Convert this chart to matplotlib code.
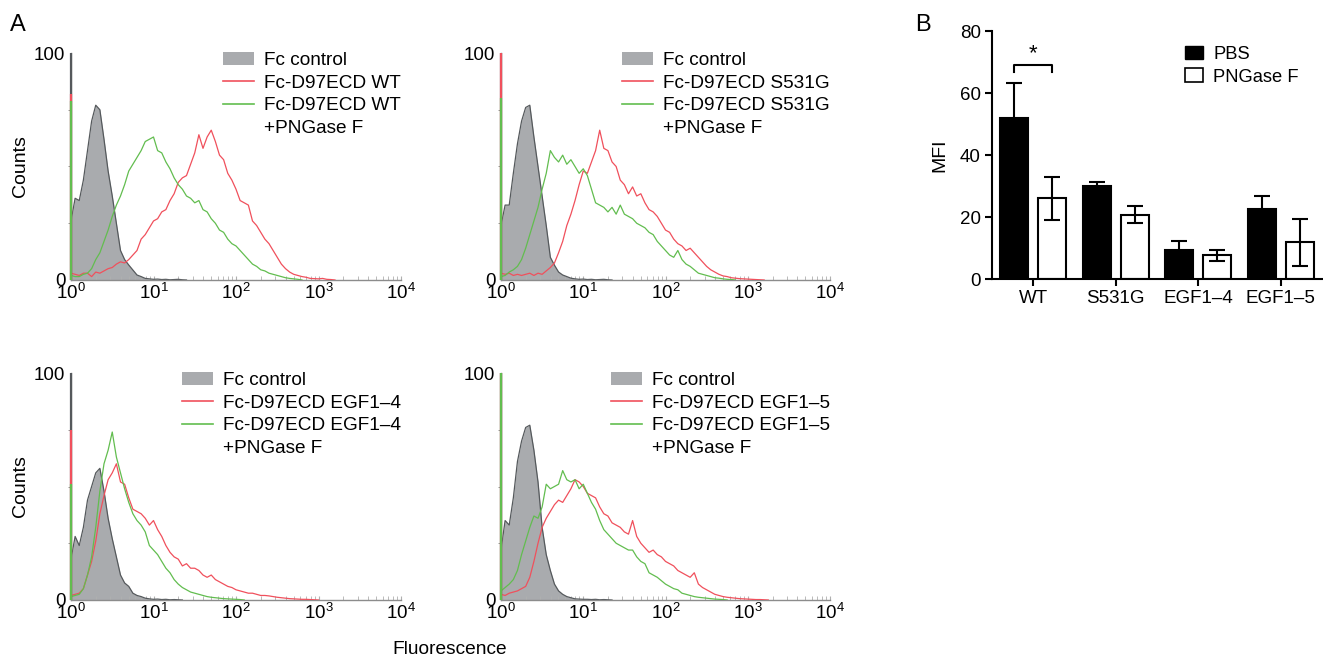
import numpy as np
import matplotlib
matplotlib.use('Agg')
import matplotlib.pyplot as plt
from matplotlib.patches import Patch
from matplotlib.lines import Line2D

plt.rcParams['font.family'] = ['Liberation Sans', 'DejaVu Sans']
plt.rcParams['mathtext.fontset'] = 'custom'
plt.rcParams['mathtext.rm'] = 'Liberation Sans'
plt.rcParams['mathtext.it'] = 'Liberation Sans'
plt.rcParams['mathtext.default'] = 'regular'

# histogram channels: log10(fluorescence) in steps of 0.05, starting at 10^0
STEP = 0.05

# --- WT panel
wt_ctrl = [26, 36, 35, 44, 57, 70, 77, 75, 62, 48, 37, 25, 13, 9, 6.6, 4.4, 2.2, 1.5, 0.7, 0.5,
           0.3, 0.4, 0.2, 0.3, 0.1, 0.2, 0.3, 0.1, 0]
wt_pbs = [3, 2.5, 2, 3, 3, 1.5, 3.5, 3, 4, 5, 5.5, 7, 8, 7.5, 9, 11, 13, 18, 20, 23,
          26, 27, 30, 31, 35, 38, 43, 45, 46, 51, 56, 64, 58, 63, 66, 61, 55, 53, 47, 44,
          40, 35, 34, 33, 26, 24, 21, 18, 16, 13, 10, 7, 5, 3.5, 2.5, 2, 1.5, 1.2, 0.7, 0.6,
          0.5, 0.7, 0.3, 0.2, 0]
wt_png = [2, 1.5, 1.5, 2.5, 3, 5, 9, 12, 17, 22, 28, 33, 37, 42, 48, 51, 54, 57, 61, 62,
          63, 57, 56, 52, 49, 45, 42, 40, 37, 36, 34, 35, 31, 30, 27, 25, 22, 21, 18, 16,
          15, 13, 11, 9, 7, 6, 4.5, 4, 3, 2.5, 2, 1.5, 1, 0.7, 0.5, 0.3, 0]

# --- S531G panel
s5_ctrl = [24, 33, 33, 47, 60, 70, 76, 77, 63, 50, 37, 24, 10, 6.5, 3.5, 2.2, 1.5, 0.8, 0.5, 0.3,
           0.4, 0.2, 0.3, 0.1, 0.2, 0.3, 0.1, 0]
s5_pbs = [3, 2.5, 3, 2, 2.5, 2, 2.5, 3, 2, 3, 2.5, 4, 5.5, 7.5, 12, 17, 24, 29, 35, 42,
          48, 47, 52, 57, 66, 58, 57, 52, 50, 44, 42, 38, 41, 37, 38, 34, 31, 30, 28, 25,
          22, 21, 18, 16, 15, 13, 14, 12, 10, 8, 6, 4.5, 3.5, 2.5, 1.8, 1.5, 1, 0.8, 0.6, 0.5,
          0.4, 0.3, 0.2, 0.1, 0]
s5_png = [1.5, 2, 3.5, 4.5, 6, 9, 14, 20, 26, 32, 40, 47, 57, 54, 52, 55, 51, 53, 50, 47,
          49, 46, 40, 34, 33, 32, 30, 32, 29, 33, 29, 28, 27, 25, 24, 23, 21, 20, 17, 15,
          13, 11, 10, 13, 9, 7, 6, 4.5, 3, 2.5, 2, 1.5, 1, 0.8, 0.5, 0.3, 0.2, 0]

# --- EGF1-4 panel
e4_ctrl = [18, 28, 24, 32, 44, 50, 56, 58, 48, 36, 27, 19, 11, 7.5, 6, 3, 2, 1.5, 0.8, 0.5,
           0.3, 0.4, 0.2, 0.3, 0.1, 0.2, 0.1, 0]
e4_pbs = [2, 2.5, 3, 5, 11, 17, 26, 38, 46, 53, 56, 60, 52, 51, 45, 40, 39, 38, 36, 33,
          35, 31, 28, 24, 21, 19, 18, 15, 16, 14, 14, 13, 11, 10, 11, 9, 8, 7, 6, 5.5,
          4.5, 4, 3.5, 3, 3, 2.5, 2, 2, 1.8, 1.5, 1.2, 1, 0.8, 0.6, 0.5, 0.4, 0.3, 0.3, 0.2, 0.1,
          0]
e4_png = [1.5, 2, 2.5, 5, 11, 19, 32, 48, 60, 66, 74, 63, 56, 49, 43, 38, 35, 33, 30, 24,
          22, 20, 17, 14, 12, 9, 7, 5.5, 4.5, 3.5, 3, 2.5, 2, 1.5, 1.2, 1, 0.8, 0.6, 0.5, 0.4,
          0.3, 0.2, 0]

# --- EGF1-5 panel
e5_ctrl = [22, 35, 33, 45, 61, 70, 76, 77, 66, 52, 32, 20, 13, 7, 4, 2.5, 1.5, 1, 0.5, 0.4,
           0.3, 0.3, 0.2, 0.3, 0.1, 0.2, 0.1, 0]
e5_pbs = [2.5, 2, 3, 3.5, 4, 5, 6, 10, 17, 25, 32, 36, 39, 42, 44, 43, 46, 49, 53, 52,
          50, 47, 46, 45, 41, 38, 37, 34, 33, 32, 30, 29, 35, 28, 25, 23, 21, 22, 20, 19,
          17, 16, 15, 13, 12, 11, 10, 12, 7, 5.5, 4.5, 3.5, 2.5, 2, 1.5, 1.2, 1, 0.8, 0.6, 0.5,
          0.4, 0.3, 0.2, 0.2, 0.1, 0]
e5_png = [4, 5.5, 7, 9, 13, 20, 26, 32, 37, 36, 41, 51, 49, 50, 51, 57, 53, 52, 53, 49,
          51, 47, 43, 40, 35, 31, 29, 27, 25, 24, 23, 22, 22, 19, 17, 16, 12, 11, 10, 8.5,
          7, 6, 5, 4.5, 3, 2.5, 2, 1.5, 1.2, 1, 0.8, 0.6, 0.4, 0.3, 0.2, 0]

# first-channel pile-up (ctrl, red, green)
wt_spike = [100, 82, 79]
s5_spike = [100, 100, 80]
e4_spike = [100, 75, 51]
e5_spike = [100, 100, 100]

panel_names = ['WT', 'S531G', 'EGF1\u20134', 'EGF1\u20135']

# --- panel B: MFI
groups = ['WT', 'S531G', 'EGF1\u20134', 'EGF1\u20135']
mfi_pbs = [52, 30, 9.2, 22.6]
mfi_pbs_err = [11.3, 1.4, 3.2, 4.2]
mfi_png = [26, 20.8, 7.6, 11.8]
mfi_png_err = [6.9, 2.8, 1.9, 7.7]

FILL = '#a9abae'
EDGE = '#55595c'
RED = '#f0505c'
GREEN = '#62bd4f'
AXC = '#8c8c8c'


def chan(vals):
    return 10 ** (STEP * np.arange(len(vals)))


def draw_hist(ax, ctrl, pbs, png, spike, name, show_ylabel):
    ax.fill_between(chan(ctrl), ctrl, color=FILL, lw=0, zorder=1)
    ax.plot(chan(ctrl), ctrl, color=EDGE, lw=0.9, zorder=2)
    ax.plot(chan(pbs), pbs, color=RED, lw=0.9, zorder=3)
    ax.plot(chan(png), png, color=GREEN, lw=0.9, zorder=4)
    for h, c in zip(spike, [EDGE, RED, GREEN]):
        ax.vlines(1, 0, h, colors=c, lw=1.6, zorder=6, clip_on=False)

    ax.set_xscale('log')
    ax.set_xlim(1, 1e4)
    ax.set_ylim(0, 100)
    ax.set_yticks([0, 100])
    ax.set_yticks([25, 50, 75], minor=True)
    ax.set_xticks([1, 10, 100, 1000, 10000])
    for s in ['top', 'right']:
        ax.spines[s].set_visible(False)
    for s in ['left', 'bottom']:
        ax.spines[s].set_color(AXC)
        ax.spines[s].set_linewidth(1.0)
    ax.tick_params(axis='x', which='both', direction='in', length=3, color='#b0b0b0',
                   labelsize=13.5, pad=2)
    ax.tick_params(axis='y', which='major', length=0, labelsize=13.5, pad=4)
    ax.tick_params(axis='y', which='minor', length=2, color=AXC)
    if show_ylabel:
        ax.set_ylabel('Counts', fontsize=14, labelpad=4)

    # second line of the PNGase entry sits under its own text, handle stays on line one
    handles = [Patch(facecolor=FILL, edgecolor='none'),
               Line2D([], [], color=RED, lw=1.2),
               Line2D([], [], color=GREEN, lw=1.2),
               Line2D([], [], color='none')]
    labels = ['Fc control', 'Fc-D97ECD ' + name, 'Fc-D97ECD ' + name, '+PNGase F']
    ax.legend(handles, labels, loc='upper right', bbox_to_anchor=(1.0, 1.005),
              frameon=False, fontsize=13.7, handlelength=1.6, handleheight=0.65,
              handletextpad=0.55, labelspacing=0.3, borderpad=0, borderaxespad=0)


fig = plt.figure(figsize=(13.23, 6.58), dpi=100)
W, H = 1323, 658

def ax_px(x0, x1, ytop, ybot):
    return fig.add_axes([x0 / W, 1 - ybot / H, (x1 - x0) / W, (ybot - ytop) / H])

ax1 = ax_px(71, 401, 53, 280)
ax2 = ax_px(501, 830, 53, 280)
ax3 = ax_px(71, 401, 373, 600)
ax4 = ax_px(501, 830, 373, 600)

draw_hist(ax1, wt_ctrl, wt_pbs, wt_png, wt_spike, panel_names[0], True)
draw_hist(ax2, s5_ctrl, s5_pbs, s5_png, s5_spike, panel_names[1], False)
draw_hist(ax3, e4_ctrl, e4_pbs, e4_png, e4_spike, panel_names[2], True)
draw_hist(ax4, e5_ctrl, e5_pbs, e5_png, e5_spike, panel_names[3], False)

fig.text(450 / W, 1 - 650 / H, 'Fluorescence', ha='center', va='center', fontsize=13.8)
fig.text(10 / W, 1 - 25 / H, 'A', ha='left', va='center', fontsize=17)
fig.text(915 / W, 1 - 25 / H, 'B', ha='left', va='center', fontsize=17)

# panel B
axb = ax_px(992, 1322, 31, 279)
xg = np.arange(len(groups))
off, bw = 0.23, 0.34
axb.bar(xg - off, mfi_pbs, bw, color='black', edgecolor='black', lw=1.5, zorder=2)
axb.bar(xg + off, mfi_png, bw, color='white', edgecolor='black', lw=1.5, zorder=2)
axb.errorbar(xg - off, mfi_pbs, yerr=mfi_pbs_err, fmt='none', ecolor='black',
             elinewidth=1.5, capsize=6, capthick=1.5, zorder=3)
axb.errorbar(xg + off, mfi_png, yerr=mfi_png_err, fmt='none', ecolor='black',
             elinewidth=1.5, capsize=6, capthick=1.5, zorder=3)
axb.set_xlim(-0.5, 3.5)
axb.set_ylim(0, 80)
axb.set_yticks([0, 20, 40, 60, 80])
axb.set_xticks(xg)
axb.set_xticklabels(groups)
for s in ['top', 'right']:
    axb.spines[s].set_visible(False)
for s in ['left', 'bottom']:
    axb.spines[s].set_linewidth(1.5)
axb.tick_params(width=1.5, length=5, labelsize=13.5, pad=3)
axb.set_ylabel('MFI', fontsize=14, labelpad=8)

# significance bracket WT
x_l, x_r = xg[0] - off, xg[0] + off
axb.plot([x_l, x_l, x_r, x_r], [66.8, 69, 69, 66.8], color='black', lw=1.5, clip_on=False)
axb.text(xg[0], 70.8, '*', ha='center', va='baseline', fontsize=16)

axb.legend([Patch(facecolor='black', edgecolor='black'),
            Patch(facecolor='white', edgecolor='black', lw=1.2)],
           ['PBS', 'PNGase F'], loc='upper left', bbox_to_anchor=(0.585, 0.94),
           frameon=False, fontsize=13.2, handlelength=1.0, handleheight=0.75,
           handletextpad=0.55, labelspacing=0.3, borderpad=0, borderaxespad=0)

fig.savefig('out.png', dpi=100)
